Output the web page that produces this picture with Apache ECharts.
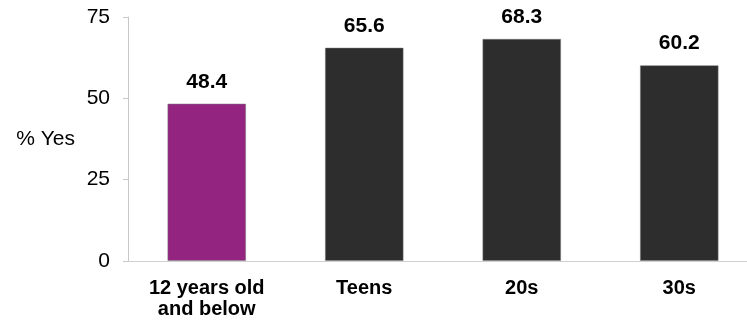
<!DOCTYPE html>
<html><head><meta charset="utf-8">
<script src="https://cdn.jsdelivr.net/npm/echarts@6/dist/echarts.min.js"></script>
<style>html,body{margin:0;padding:0;background:#fff}#c{width:747px;height:321px}</style>
</head><body><div id="c"></div>
<script>
const categories = ['12 years old\nand below', 'Teens', '20s', '30s'];
const values = [48.4, 65.6, 68.3, 60.2];
const barColors = ['#93247f', '#2d2d2d', '#2d2d2d', '#2d2d2d'];
const yTicks = [0, 25, 50, 75];
const yTitle = '% Yes';

const chart = echarts.init(document.getElementById('c'), null, {renderer: 'canvas'});
const font = 'Liberation Sans, Arial, sans-serif';
chart.setOption({
  animation: false,
  grid: {left: 128, width: 630, top: 17, height: 244, containLabel: false, outerBoundsMode: 'none'},
  xAxis: {
    type: 'category', data: categories,
    axisLine: {lineStyle: {color: '#d0d0d0', width: 1}},
    axisTick: {show: false},
    axisLabel: {color: '#000', fontFamily: font, fontSize: 20, fontWeight: 'bold', lineHeight: 21, margin: 17}
  },
  yAxis: {
    type: 'value', min: yTicks[0], max: yTicks[yTicks.length - 1], interval: 25,
    splitLine: {show: false},
    axisLine: {show: true, lineStyle: {color: '#c8c8c8', width: 1}},
    axisTick: {show: true, length: 5, lineStyle: {color: '#c8c8c8'}},
    axisLabel: {color: '#000', fontFamily: font, fontSize: 21, margin: 18},
    name: yTitle, nameLocation: 'middle', nameRotate: 0, nameGap: 53,
    nameTextStyle: {color: '#000', fontFamily: font, fontSize: 21}
  },
  series: [{
    type: 'bar', barWidth: '50%',
    data: values.map((v, i) => ({value: v, itemStyle: {color: barColors[i]}})),
    itemStyle: {borderColor: 'rgba(120,120,120,0.5)', borderWidth: 1},
    label: {show: true, position: 'top', distance: 11, color: '#000', fontFamily: font, fontSize: 21, fontWeight: 'bold', formatter: p => p.value.toFixed(1)}
  }]
});
</script></body></html>
